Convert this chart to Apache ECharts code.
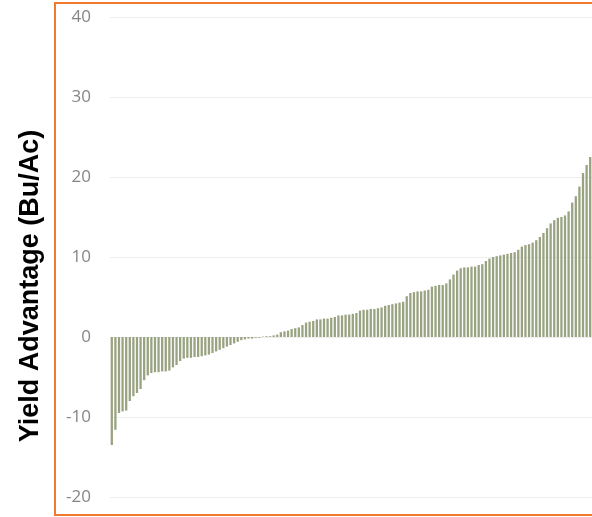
<!DOCTYPE html>
<html>
<head>
<meta charset="utf-8">
<script src="https://cdn.jsdelivr.net/npm/echarts@6/dist/echarts.min.js"></script>
<style>html,body{margin:0;padding:0;background:#fff}#c{width:592px;height:517px}</style>
</head>
<body>
<div id="c"></div>
<script>
const yTitle = 'Yield Advantage (Bu/Ac)';
const yTicks = [-20, -10, 0, 10, 20, 30, 40];
const values = [
  -13.5, -11.6, -9.5, -9.3, -9.2, -8.0, -7.4, -7.0, -6.5, -5.4,
  -4.8, -4.5, -4.4, -4.4, -4.3, -4.3, -4.2, -3.8, -3.5, -3.0,
  -2.7, -2.6, -2.6, -2.5, -2.5, -2.4, -2.3, -2.2, -2.0, -1.8,
  -1.6, -1.4, -1.2, -1.0, -0.8, -0.6, -0.4, -0.3, -0.2, -0.2,
  -0.1, -0.1, 0.05, 0.1, 0.1, 0.2, 0.3, 0.6, 0.7, 0.8,
  1.0, 1.1, 1.2, 1.5, 1.8, 1.9, 2.0, 2.2, 2.2, 2.3,
  2.3, 2.4, 2.5, 2.7, 2.7, 2.8, 2.8, 2.9, 3.0, 3.3,
  3.4, 3.4, 3.5, 3.5, 3.6, 3.7, 3.9, 4.0, 4.1, 4.2,
  4.3, 4.4, 5.1, 5.5, 5.6, 5.7, 5.7, 5.8, 5.9, 6.3,
  6.4, 6.5, 6.5, 6.7, 7.2, 7.8, 8.3, 8.6, 8.7, 8.7,
  8.8, 8.8, 9.0, 9.1, 9.5, 9.8, 10.0, 10.1, 10.2, 10.3,
  10.4, 10.5, 10.6, 10.9, 11.3, 11.5, 11.6, 11.8, 12.1, 12.5,
  13.0, 13.6, 14.2, 14.6, 14.9, 15.0, 15.2, 15.7, 16.8, 17.6,
  18.8, 20.5, 21.5, 22.5
];
const categories = values.map((v, i) => 'S' + (i + 1));

const chart = echarts.init(document.getElementById('c'));
chart.setOption({
  animation: false,
  grid: { left: 110, top: 17, width: 482.4, height: 480, containLabel: false },
  xAxis: {
    type: 'category', data: categories,
    axisLine: { show: false }, axisTick: { show: false }, axisLabel: { show: false }
  },
  yAxis: {
    type: 'value', min: yTicks[0], max: yTicks[yTicks.length - 1], interval: 10,
    axisLine: { show: false }, axisTick: { show: false },
    axisLabel: { color: '#858585', fontSize: 17, fontFamily: 'Open Sans', margin: 19 },
    splitLine: { lineStyle: { color: '#eeeeee', width: 1 } }
  },
  series: [{
    type: 'bar', data: values, barWidth: 2.3,
    itemStyle: { color: '#99a381' }
  }],
  graphic: [
    { type: 'rect', shape: { x: 55, y: 3, width: 600, height: 512 },
      style: { fill: 'none', stroke: '#f07b2e', lineWidth: 2 }, z: 100 },
    { type: 'text', x: 31, y: 286, rotation: Math.PI / 2,
      style: { text: yTitle, font: 'bold 27px "Liberation Sans"', fill: '#000',
        textAlign: 'center', textVerticalAlign: 'middle' } }
  ]
});
</script>
</body>
</html>
